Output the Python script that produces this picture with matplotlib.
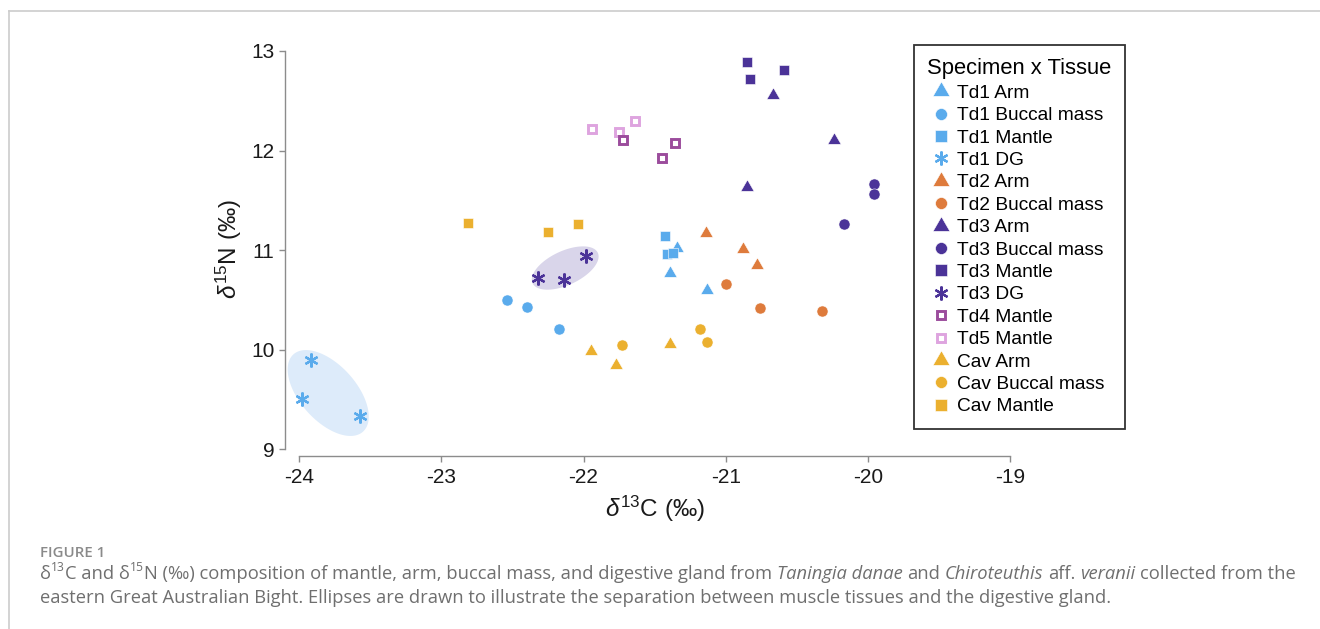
import numpy as np
import matplotlib
matplotlib.use("Agg")
import matplotlib.pyplot as plt
from matplotlib.lines import Line2D
from matplotlib.path import Path

plt.rcParams['font.family'] = ['Liberation Sans', 'DejaVu Sans']
plt.rcParams['mathtext.fontset'] = 'custom'
plt.rcParams['mathtext.rm'] = 'Liberation Sans'
plt.rcParams['mathtext.it'] = 'Liberation Sans:italic'

# values (d13C, d15N)
td1_arm_x = [-21.34, -21.39, -21.13]
td1_arm_y = [11.02, 10.77, 10.60]
td1_buccal_x = [-22.54, -22.40, -22.17]
td1_buccal_y = [10.50, 10.43, 10.21]
td1_mantle_x = [-21.43, -21.41, -21.37]
td1_mantle_y = [11.14, 10.96, 10.97]
td1_dg_x = [-23.92, -23.98, -23.57]
td1_dg_y = [9.89, 9.50, 9.33]
td2_arm_x = [-21.14, -20.88, -20.78]
td2_arm_y = [11.17, 11.01, 10.85]
td2_buccal_x = [-21.00, -20.76, -20.32]
td2_buccal_y = [10.66, 10.42, 10.39]
td3_arm_x = [-20.67, -20.24, -20.85]
td3_arm_y = [12.56, 12.11, 11.63]
td3_buccal_x = [-19.96, -19.96, -20.17]
td3_buccal_y = [11.66, 11.56, 11.26]
td3_mantle_x = [-20.85, -20.83, -20.59]
td3_mantle_y = [12.89, 12.72, 12.81]
td3_dg_x = [-22.32, -22.14, -21.98]
td3_dg_y = [10.72, 10.70, 10.94]
td4_mantle_x = [-21.72, -21.36, -21.45]
td4_mantle_y = [12.11, 12.08, 11.92]
td5_mantle_x = [-21.94, -21.75, -21.64]
td5_mantle_y = [12.22, 12.19, 12.30]
cav_arm_x = [-21.95, -21.77, -21.39]
cav_arm_y = [9.99, 9.84, 10.06]
cav_buccal_x = [-21.73, -21.18, -21.13]
cav_buccal_y = [10.05, 10.21, 10.08]
cav_mantle_x = [-22.81, -22.25, -22.04]
cav_mantle_y = [11.27, 11.18, 11.26]

x_ticks = [-24, -23, -22, -21, -20, -19]
y_ticks = [9, 10, 11, 12, 13]

# ellipses: centre (data), semi axes (px), angle (deg)
ell_td1 = (-23.796, 9.563, 52, 28, -48)
ell_td3 = (-22.129, 10.819, 36, 17, 25)

c_td1 = '#5aabec'
c_td2 = '#de7b3c'
c_td3 = '#4b3398'
c_td4 = '#9b4c9c'
c_td5 = '#dea4df'
c_cav = '#ebb02f'

tri = Path([(0, 1), (-0.866, -0.5), (0.866, -0.5), (0, 1)],
           [Path.MOVETO, Path.LINETO, Path.LINETO, Path.CLOSEPOLY])
star = (6, 2, 0)

# label, x, y, color, marker, kind
series = [
    ("Td1 Arm", td1_arm_x, td1_arm_y, c_td1, tri, 'tri'),
    ("Td1 Buccal mass", td1_buccal_x, td1_buccal_y, c_td1, 'o', 'circ'),
    ("Td1 Mantle", td1_mantle_x, td1_mantle_y, c_td1, 's', 'sq'),
    ("Td1 DG", td1_dg_x, td1_dg_y, c_td1, star, 'star'),
    ("Td2 Arm", td2_arm_x, td2_arm_y, c_td2, tri, 'tri'),
    ("Td2 Buccal mass", td2_buccal_x, td2_buccal_y, c_td2, 'o', 'circ'),
    ("Td3 Arm", td3_arm_x, td3_arm_y, c_td3, tri, 'tri'),
    ("Td3 Buccal mass", td3_buccal_x, td3_buccal_y, c_td3, 'o', 'circ'),
    ("Td3 Mantle", td3_mantle_x, td3_mantle_y, c_td3, 's', 'sq'),
    ("Td3 DG", td3_dg_x, td3_dg_y, c_td3, star, 'star'),
    ("Td4 Mantle", td4_mantle_x, td4_mantle_y, c_td4, 's', 'hollow'),
    ("Td5 Mantle", td5_mantle_x, td5_mantle_y, c_td5, 's', 'hollow'),
    ("Cav Arm", cav_arm_x, cav_arm_y, c_cav, tri, 'tri'),
    ("Cav Buccal mass", cav_buccal_x, cav_buccal_y, c_cav, 'o', 'circ'),
    ("Cav Mantle", cav_mantle_x, cav_mantle_y, c_cav, 's', 'sq'),
]


def marker_style(color, marker, kind, legend=False):
    if kind == 'tri':
        return dict(marker=marker, ms=14 if legend else 11, mfc=color, mec='white', mew=0.4)
    if kind == 'circ':
        return dict(marker=marker, ms=8.6 if legend else 8, mfc=color, mec='white', mew=0.4)
    if kind == 'sq':
        return dict(marker=marker, ms=8.4 if legend else 7.8, mfc=color, mec='white', mew=0.4)
    if kind == 'star':
        return dict(marker=marker, ms=10, mfc=color, mec=color, mew=1.6)
    return dict(marker=marker, ms=5.6, mfc='white', mec=color, mew=2.1)


fig = plt.figure(figsize=(13.2, 6.29), dpi=100)
ax = fig.add_axes([285 / 1320, 1 - 456 / 629, 725 / 1320, 405 / 629])
ax.set_xlim(-24.1, -19)
ax.set_ylim(8.93, 13)

# ellipses drawn in pixel space, mapped back to data
sx = 725 / 5.1
sy = 405 / 4.07
t = np.linspace(0, 2 * np.pi, 200)
for (cx, cy, a, b, ang), fc in [(ell_td1, '#ddebfa'), (ell_td3, '#d9d5ea')]:
    th = np.radians(ang)
    px = a * np.cos(t) * np.cos(th) - b * np.sin(t) * np.sin(th)
    py = a * np.cos(t) * np.sin(th) + b * np.sin(t) * np.cos(th)
    ax.fill(cx + px / sx, cy + py / sy, color=fc, lw=0, zorder=1, clip_on=False)

order = [0, 1, 2, 3, 4, 5, 6, 7, 8, 9, 11, 10, 12, 13, 14]
for i in order:
    lab, xs, ys, col, mk, kind = series[i]
    ax.plot(xs, ys, ls='none', zorder=3, clip_on=False, **marker_style(col, mk, kind))

for s in ['top', 'right']:
    ax.spines[s].set_visible(False)
for s in ['left', 'bottom']:
    ax.spines[s].set_color('#8c8c8c')
    ax.spines[s].set_linewidth(1.0)
ax.spines['bottom'].set_bounds(-24, -19)
ax.spines['left'].set_bounds(9, 13)
ax.set_xticks(x_ticks)
ax.set_yticks(y_ticks)
ax.set_xticklabels([str(v) for v in x_ticks])
ax.set_yticklabels([str(v) for v in y_ticks])
ax.tick_params(axis='both', colors='#8c8c8c', labelcolor='#1a1a1a', labelsize=15,
               length=4.5, width=1.0, direction='out')
ax.tick_params(axis='x', pad=4)
ax.tick_params(axis='y', pad=3)

ax.set_xlabel(r'$\delta^{13}$C (‰)', fontsize=17.5, color='#1a1a1a')
ax.set_ylabel(r'$\delta^{15}$N (‰)', fontsize=17.5, color='#1a1a1a')
ax.xaxis.set_label_coords(0.5097, -0.094)
ax.yaxis.set_label_coords(-0.0566, 0.511)

handles = []
for lab, xs, ys, col, mk, kind in series:
    handles.append(Line2D([], [], ls='none', label=lab, **marker_style(col, mk, kind, legend=True)))
leg = fig.legend(handles=handles, loc='upper left', bbox_to_anchor=(914 / 1320, 1 - 45 / 629),
                 bbox_transform=fig.transFigure, borderaxespad=0, fontsize=13.8,
                 title='Specimen x Tissue', title_fontsize=15.8, frameon=True, fancybox=False,
                 framealpha=1, edgecolor='#333333', labelspacing=0.26, handlelength=0.65,
                 handletextpad=0.55, borderpad=0.7, alignment='center')
leg.get_frame().set_linewidth(1.3)

# page frame
fig.add_artist(Line2D([9 / 1320, 1], [1 - 11 / 629, 1 - 11 / 629], color='#cccccc', lw=1.2))
fig.add_artist(Line2D([9 / 1320, 9 / 1320], [0, 1 - 11 / 629], color='#cccccc', lw=1.2))

# caption
cap_font = ['Open Sans', 'DejaVu Sans']
fig.text(40 / 1320, 1 - 557 / 629, 'FIGURE 1', fontsize=10.8, weight='semibold',
         color='#8a8a8a', family=cap_font, va='baseline')

renderer = fig.canvas.get_renderer()


def text_width(s, **kw):
    tt = fig.text(0, 0, s, **kw)
    w = tt.get_window_extent(renderer).width
    tt.remove()
    return w


def rich_line(x0, y, pieces, size, color):
    x = x0 * fig.bbox.width
    for txt, kind in pieces:
        fs = size * 0.66 if kind == 's' else size
        style = 'italic' if kind == 'i' else 'normal'
        kw = dict(fontsize=fs, style=style, color=color, family=cap_font, va='baseline')
        sp = text_width('a a', **kw) - text_width('aa', **kw)
        lead = len(txt) - len(txt.lstrip(' '))
        trail = len(txt) - len(txt.rstrip(' '))
        core = txt.strip(' ')
        x += lead * sp
        dy = size * 0.42 / 72 * fig.dpi if kind == 's' else 0
        tt = fig.text(x / fig.bbox.width, y + dy / fig.bbox.height, core, **kw)
        x += tt.get_window_extent(renderer).width + trail * sp


cap_color = '#6f6f6f'
line1 = [("δ", 'n'), ("13", 's'), ("C and δ", 'n'), ("15", 's'),
         ("N (‰) composition of mantle, arm, buccal mass, and digestive gland from ", 'n'),
         ("Taningia danae", 'i'), (" and ", 'n'), ("Chiroteuthis", 'i'), (" aff. ", 'n'),
         ("veranii", 'i'), (" collected from the", 'n')]
line2 = [("eastern Great Australian Bight. Ellipses are drawn to illustrate the separation "
          "between muscle tissues and the digestive gland.", 'n')]
rich_line(40 / 1320, 1 - 579 / 629, line1, 13.25, cap_color)
rich_line(40 / 1320, 1 - 603 / 629, line2, 13.25, cap_color)

fig.savefig('out.png', dpi=100)
